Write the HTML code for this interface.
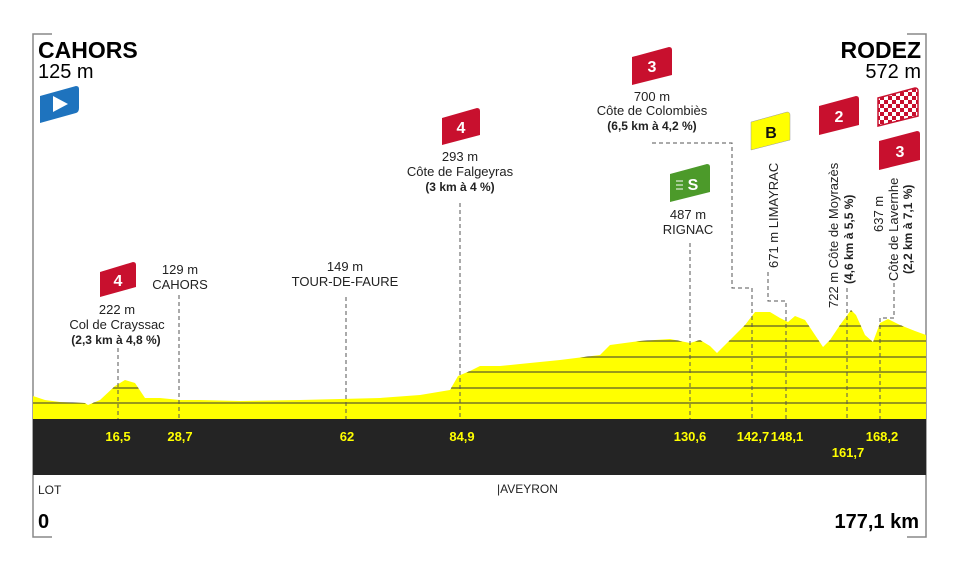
<!DOCTYPE html>
<html><head><meta charset="utf-8"><style>
html,body{margin:0;padding:0;background:#fff}
svg{display:block;font-family:"Liberation Sans",sans-serif}
</style></head><body>
<svg width="960" height="576" viewBox="0 0 960 576" xmlns="http://www.w3.org/2000/svg">
<!-- frame -->
<path d="M52,34 H33 V537 H52" fill="none" stroke="#888" stroke-width="1.5"/>
<path d="M907,34 H926 V537 H907" fill="none" stroke="#888" stroke-width="1.5"/>
<!-- profile -->
<defs><clipPath id="pc"><path id="prof" d="M33,396 L45,400 L60,402 L85,403 L88,405 L100,400 L115,386 L125,380 L135,383 L145,398 L160,398 L180,400 L200,400 L240,401 L300,400 L340,399 L380,398 L420,395 L450,390 L458,376 L470,371 L480,366 L500,366 L520,364 L560,360 L600,355 L610,345 L640,341 L670,339 L690,343 L700,340 L710,346 L717,353 L730,340 L745,325 L755,312 L770,312 L780,318 L788,322 L795,316 L805,320 L815,335 L823,347 L830,340 L840,325 L851,310 L856,315 L865,335 L873,342 L880,323 L888,319 L900,325 L915,331 L926,335 L926,419 L33,419 Z"/></clipPath></defs>
<g clip-path="url(#pc)">
<rect x="33" y="300" width="893" height="120" fill="#ffff00"/>
<g stroke="#333" stroke-width="1">
<line x1="33" y1="403" x2="926" y2="403"/><line x1="33" y1="388" x2="926" y2="388"/>
<line x1="33" y1="372" x2="926" y2="372"/><line x1="33" y1="357" x2="926" y2="357"/>
<line x1="33" y1="341" x2="926" y2="341"/><line x1="33" y1="326" x2="926" y2="326"/>
<line x1="33" y1="311" x2="926" y2="311"/>
</g></g>
<rect x="33" y="419" width="893" height="56" fill="#242424"/>
<!-- dashed connectors -->
<g stroke="#555" stroke-width="1" stroke-dasharray="4,3" fill="none">
<path d="M118,348 V419"/><path d="M179,295 V419"/><path d="M346,297 V419"/>
<path d="M460,203 V419"/><path d="M690,243 V419"/>
<path d="M652,143 H732 V288 H752 V419"/>
<path d="M768,272 V301 H786 V419"/>
<path d="M847,288 V419"/>
<path d="M894,283 V318 H880 V419"/>
</g>
<!-- headers -->
<text x="38" y="58" font-size="23" font-weight="bold">CAHORS</text>
<text x="38" y="78" font-size="20">125 m</text>
<text x="921" y="58" font-size="23" font-weight="bold" text-anchor="end">RODEZ</text>
<text x="921" y="78" font-size="20" text-anchor="end">572 m</text>
<!-- start flag -->
<path d="M40,96 L76,86 Q79,86 79,89 L79,108 Q79,112 76,113 L40,123 Z" fill="#1e73be"/>
<path d="M53,96 L68,104 L53,112 Z" fill="#fff"/>
<!-- badges -->
<g font-weight="bold" font-size="16" text-anchor="middle" fill="#fff">
<path d="M100,272 L133,262 Q136,262 136,265 L136,287 L100,297 Z" fill="#c8102e"/><text x="118" y="286">4</text>
<path d="M442,118 L477,108 Q480,108 480,111 L480,135 L442,145 Z" fill="#c8102e"/><text x="461" y="133">4</text>
<path d="M632,57 L669,47 Q672,47 672,50 L672,75 L632,85 Z" fill="#c8102e"/><text x="652" y="72">3</text>
<path d="M670,174 L707,164 Q710,164 710,167 L710,192 L670,202 Z" fill="#4c9a2a"/><text x="693" y="190">S</text>
<path d="M676,181 h7 M676,185 h7 M676,189 h7" stroke="#fff" stroke-width="1"/>
<path d="M751,122 L787,112 Q790,112 790,115 L790,140 L751,150 Z" fill="#ffff00" stroke="#999" stroke-width="0.5"/><text x="771" y="138" fill="#111">B</text>
<path d="M819,106 L856,96 Q859,96 859,99 L859,125 L819,135 Z" fill="#c8102e"/><text x="839" y="122">2</text>
<path d="M879,141 L917,131 Q920,131 920,134 L920,160 L879,170 Z" fill="#c8102e"/><text x="900" y="157">3</text>
</g>
<defs><pattern id="chk" width="8" height="8" patternUnits="userSpaceOnUse"><rect width="8" height="8" fill="#fff"/><rect width="4" height="4" fill="#c8102e"/><rect x="4" y="4" width="4" height="4" fill="#c8102e"/></pattern></defs>
<path d="M878,98 L915,88 Q918,88 918,91 L918,116 L878,126 Z" fill="url(#chk)" stroke="#c8102e" stroke-width="1.5"/>
<!-- labels -->
<g font-size="13" text-anchor="middle" fill="#222">
<text x="117" y="314">222 m</text><text x="117" y="329">Col de Crayssac</text>
<text x="116" y="344" font-weight="bold" font-size="12">(2,3 km à 4,8 %)</text>
<text x="180" y="274">129 m</text><text x="180" y="289">CAHORS</text>
<text x="345" y="271">149 m</text><text x="345" y="286">TOUR-DE-FAURE</text>
<text x="460" y="161">293 m</text><text x="460" y="176">Côte de Falgeyras</text>
<text x="460" y="191" font-weight="bold" font-size="12">(3 km à 4 %)</text>
<text x="652" y="101">700 m</text><text x="652" y="115">Côte de Colombiès</text>
<text x="652" y="130" font-weight="bold" font-size="12">(6,5 km à 4,2 %)</text>
<text x="688" y="219">487 m</text><text x="688" y="234">RIGNAC</text>
</g>
<g font-size="13" fill="#222">
<text transform="translate(778,268) rotate(-90)">671 m LIMAYRAC</text>
<text transform="translate(838,308) rotate(-90)">722 m Côte de Moyrazès</text>
<text transform="translate(853,284) rotate(-90)" font-weight="bold" font-size="12">(4,6 km à 5,5 %)</text>
<text transform="translate(883,232) rotate(-90)">637 m</text>
<text transform="translate(898,281) rotate(-90)">Côte de Lavernhe</text>
<text transform="translate(912,274) rotate(-90)" font-weight="bold" font-size="12">(2,2 km à 7,1 %)</text>
</g>
<!-- km -->
<g font-size="13" font-weight="bold" fill="#ffff00" text-anchor="middle">
<text x="118" y="441">16,5</text><text x="180" y="441">28,7</text><text x="347" y="441">62</text>
<text x="462" y="441">84,9</text><text x="690" y="441">130,6</text><text x="753" y="441">142,7</text>
<text x="787" y="441">148,1</text><text x="848" y="457">161,7</text><text x="882" y="441">168,2</text>
</g>
<text x="38" y="494" font-size="12" fill="#222">LOT</text>
<text x="497" y="493" font-size="12" fill="#222">|AVEYRON</text>
<text x="38" y="528" font-size="20" font-weight="bold">0</text>
<text x="919" y="528" font-size="20" font-weight="bold" text-anchor="end">177,1 km</text>
</svg>
</body></html>
